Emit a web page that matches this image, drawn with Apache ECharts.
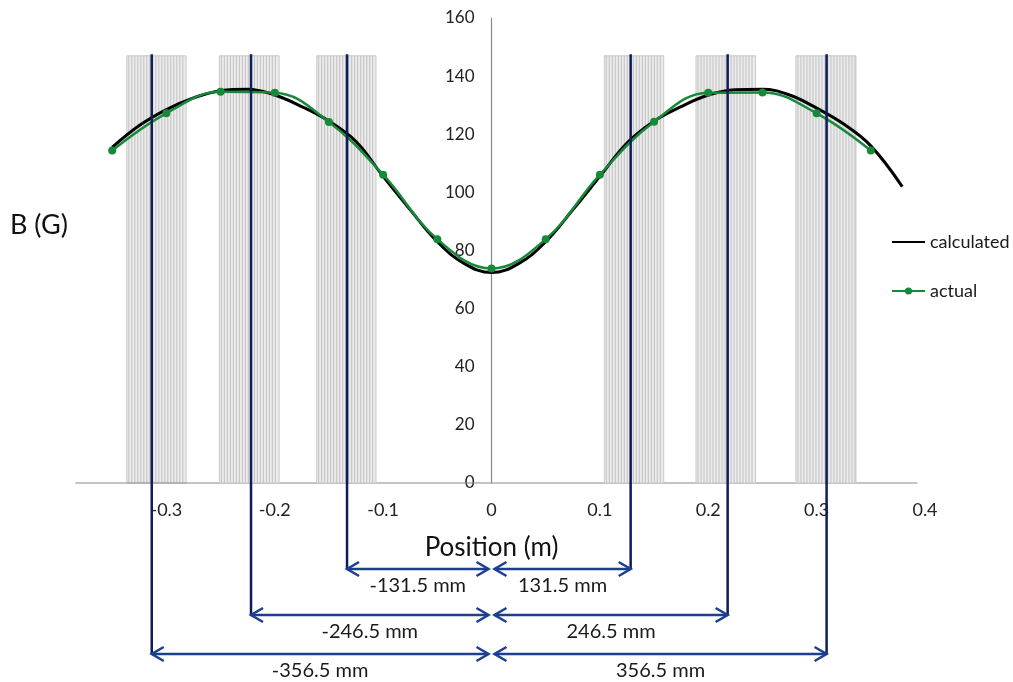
<!DOCTYPE html>
<html>
<head>
<meta charset="utf-8">
<script src="https://cdn.jsdelivr.net/npm/echarts@6/dist/echarts.min.js"></script>
<style>
html, body { margin: 0; padding: 0; background: #ffffff; }
#fieldChart { width: 1013px; height: 682px; }
</style>
</head>
<body>
<div id="fieldChart"></div>
<script>
// measured points (m, G)
const actualX = [-0.35, -0.3, -0.25, -0.2, -0.15, -0.1, -0.05, 0, 0.05, 0.1, 0.15, 0.2, 0.25, 0.3, 0.35]
const actualB = [114.4, 127.2, 134.6, 134.3, 124.2, 106.1, 83.9, 73.8, 83.9, 106.1, 124.3, 134.3, 134.4, 127.2, 114.4]

// calculated curve
const calcX = [-0.35, -0.325, -0.3, -0.275, -0.25, -0.225, -0.2, -0.175, -0.15, -0.125, -0.1, -0.075, -0.05, -0.025, 0,
	0.025, 0.05, 0.075, 0.1, 0.125, 0.15, 0.175, 0.2, 0.225, 0.25, 0.275, 0.3, 0.325, 0.35, 0.379]
const calcB = [115.5, 123, 128.5, 132.5, 135, 135.5, 133.5, 129.5, 124.5, 117.5, 105.5, 94, 83, 75.5, 72.4,
	75.5, 83, 94, 105.5, 117, 124.5, 129.5, 133.5, 135.3, 135.5, 133.5, 129, 123.5, 116, 102]

// coil blocks (m)
const coilStart = [-0.3365, -0.2511, -0.1613, 0.1041, 0.1887, 0.2809]
const coilEnd = [-0.2818, -0.1960, -0.1066, 0.1589, 0.2437, 0.3363]
const coilTop = 147

// dimension lines
const dimX = [-0.3135, -0.2219, -0.1333, 0.1284, 0.2179, 0.3092]
const dimRow = [2, 1, 0, 0, 1, 2]
const dimLabels = ["-356.5 mm", "-246.5 mm", "-131.5 mm", "131.5 mm", "246.5 mm", "356.5 mm"]
const dimTop = 147.5

// drawn x axis extent
const axisSpan = [-0.384, 0.393]

const FONT = "Lato"
const rowOffset = [86, 132, 171] // px below the axis
const GRID_L = 58, GRID_R = 88, W = 1013

let myChart = echarts.init(document.getElementById("fieldChart"))

let option = {
	animation: false,
	grid: { left: GRID_L, right: GRID_R, top: 18, bottom: 199 },
	legend: {
		orient: "vertical",
		left: 886,
		top: 228,
		itemWidth: 33,
		itemHeight: 9,
		itemGap: 31,
		data: [{ name: "calculated", itemStyle: { opacity: 0 } }, "actual"],
		textStyle: { fontFamily: FONT, fontSize: 18, color: "#1a1a1a" },
	},
	graphic: [
		{
			type: "text",
			left: 10,
			top: 212,
			style: { text: "B (G)", fontFamily: FONT, fontSize: 27, fill: "#111" },
		},
	],
	xAxis: {
		type: "value",
		min: -0.4,
		max: 0.4,
		interval: 0.1,
		name: "Position (m)",
		nameLocation: "middle",
		nameGap: 52,
		nameTextStyle: { fontFamily: FONT, fontSize: 26, color: "#111" },
		axisLine: { show: false },
		axisTick: { show: false },
		splitLine: { show: false },
		axisLabel: {
			showMinLabel: false,
			margin: 18,
			fontFamily: FONT,
			fontSize: 18,
			color: "#222",
		},
	},
	yAxis: {
		type: "value",
		min: 0,
		max: 160,
		interval: 20,
		// move the axis to x = 0
		offset: -(W - GRID_L - GRID_R) / 2,
		axisLine: { show: true, onZero: false, lineStyle: { color: "#8a8a8a", width: 1.2 } },
		axisTick: { show: false },
		splitLine: { show: false },
		axisLabel: { margin: 17, fontFamily: FONT, fontSize: 17, color: "#222" },
	},
	series: [
		{
			// hatched coil blocks + x axis line
			type: "custom",
			z: 1,
			silent: true,
			data: coilStart.map((s, i) => [s, coilEnd[i], coilTop]),
			renderItem: function(params, api) {
				let a = api.coord([api.value(0), api.value(2)])
				let b = api.coord([api.value(1), 0])
				let children = [
					{
						type: "rect",
						shape: { x: a[0], y: a[1], width: b[0] - a[0], height: b[1] - a[1] },
						style: { fill: "#ebebeb", stroke: "#c9c9c9", lineWidth: 1 },
					},
				]
				for (let x = a[0] + 2; x < b[0] - 1; x += 3) {
					children.push({
						type: "line",
						shape: { x1: x, y1: a[1], x2: x, y2: b[1] },
						style: { stroke: "#c2c2c2", lineWidth: 1 },
					})
				}
				if (params.dataIndex === 0) {
					let l = api.coord([axisSpan[0], 0])
					let r = api.coord([axisSpan[1], 0])
					children.push({
						type: "line",
						shape: { x1: l[0], y1: l[1], x2: r[0], y2: r[1] },
						style: { stroke: "#8a8a8a", lineWidth: 1.2 },
					})
				}
				return { type: "group", children: children }
			},
		},
		{
			name: "calculated",
			type: "line",
			z: 3,
			smooth: 0.4,
			symbol: "none",
			data: calcX.map((x, i) => [x, calcB[i]]),
			lineStyle: { color: "#000000", width: 3 },
			itemStyle: { color: "#000000" },
		},
		{
			name: "actual",
			type: "line",
			z: 4,
			smooth: 0.4,
			symbol: "circle",
			symbolSize: 8,
			data: actualX.map((x, i) => [x, actualB[i]]),
			lineStyle: { color: "#17893a", width: 2.5 },
			itemStyle: { color: "#17893a" },
		},
		{
			// dimension lines and arrows
			type: "custom",
			z: 5,
			silent: true,
			data: dimX.map((x, i) => [x, dimRow[i]]),
			renderItem: function(params, api) {
				let top = api.coord([api.value(0), dimTop])
				let zero = api.coord([0, 0])
				let y = zero[1] + rowOffset[api.value(1)]
				let lx = top[0]
				let sign = lx < zero[0] ? -1 : 1
				let zx = zero[0] + sign * 3
				let arrowColor = "#1c3f8e"
				let L = 12, H = 7
				return {
					type: "group",
					children: [
						{
							type: "line",
							shape: { x1: lx, y1: top[1], x2: lx, y2: y },
							style: { stroke: "#0e1d57", lineWidth: 2.5 },
						},
						{
							type: "line",
							shape: { x1: lx, y1: y, x2: zx, y2: y },
							style: { stroke: arrowColor, lineWidth: 2.5 },
						},
						{
							type: "polyline",
							shape: { points: [[lx - sign * L, y - H], [lx, y], [lx - sign * L, y + H]] },
							style: { stroke: arrowColor, lineWidth: 2.5, fill: null },
						},
						{
							type: "polyline",
							shape: { points: [[zx + sign * L, y - H], [zx, y], [zx + sign * L, y + H]] },
							style: { stroke: arrowColor, lineWidth: 2.5, fill: null },
						},
						{
							type: "text",
							style: {
								text: dimLabels[params.dataIndex],
								x: (lx + zx) / 2,
								y: y + 17,
								align: "center",
								verticalAlign: "middle",
								fontFamily: FONT,
								fontSize: 20,
								fill: "#1a1a1a",
							},
						},
					],
				}
			},
		},
	],
}

myChart.setOption(option)
</script>
</body>
</html>
